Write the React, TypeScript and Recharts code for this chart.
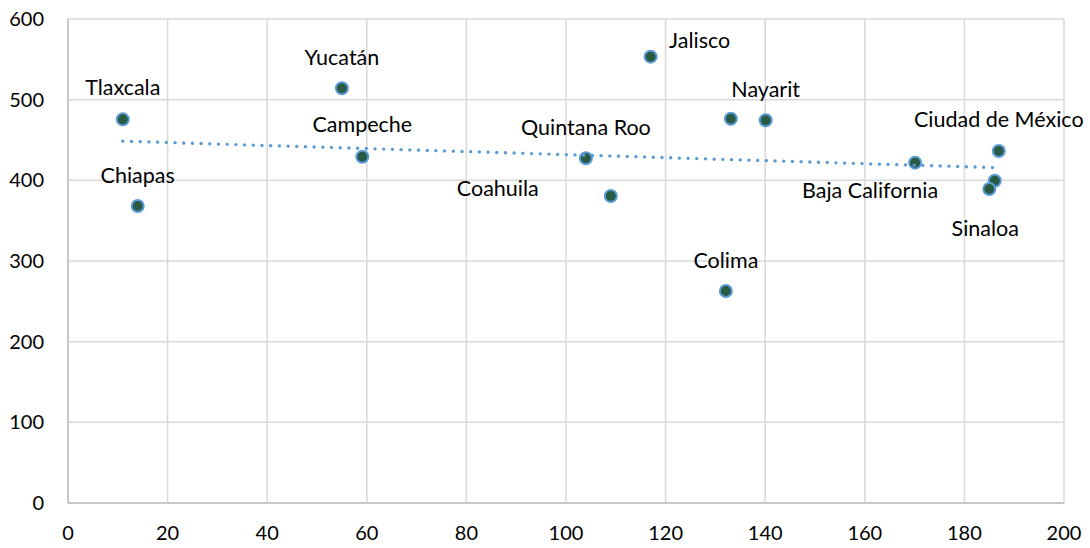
import React from 'react';
import { ScatterChart, Scatter, XAxis, YAxis, CartesianGrid } from 'recharts';

// Data
const xValues = [11, 14, 55, 59.1, 104, 109, 117, 132.1, 133.1, 140.1, 170.1, 186.9, 186.1, 185];
const yValues = [475.6, 368.2, 514.1, 429.3, 427.3, 380.6, 553.3, 262.8, 476.4, 474.4, 421.9, 436.3, 399.5, 389.2];
const names = [
  'Tlaxcala', 'Chiapas', 'Yucatán', 'Campeche', 'Quintana Roo', 'Coahuila', 'Jalisco',
  'Colima', '', 'Nayarit', 'Baja California', 'Ciudad de México', '', 'Sinaloa',
];
const xTicks = [0, 20, 40, 60, 80, 100, 120, 140, 160, 180, 200];
const yTicks = [0, 100, 200, 300, 400, 500, 600];

// Label placement (style): offset of the label centre from its point, in px
const labelOffsets: [number, number][] = [
  [0, -32], [0, -31], [0, -31], [0, -32], [0, -31], [-113, -8], [49, -16],
  [0, -31], [0, 0], [0, -31], [-45, 28], [0, -32], [0, 0], [-4, 39],
];

const FONT = 'Lato, "Open Sans", sans-serif';

const points = xValues.map((x, i) => ({ x, y: yValues[i], name: names[i], idx: i }));

// Linear trendline (least squares) computed from the points
const n = xValues.length;
const mx = xValues.reduce((s, v) => s + v, 0) / n;
const my = yValues.reduce((s, v) => s + v, 0) / n;
let sxy = 0;
let sxx = 0;
for (let i = 0; i < n; i++) {
  sxy += (xValues[i] - mx) * (yValues[i] - my);
  sxx += (xValues[i] - mx) * (xValues[i] - mx);
}
const slope = sxy / sxx;
const intercept = my - slope * mx;
const minX = Math.min(...xValues);
const maxX = Math.max(...xValues);
const trend = [
  { x: minX, y: intercept + slope * minX },
  { x: maxX, y: intercept + slope * maxX },
];

const PointShape = (props: any) => {
  const { cx, cy, payload } = props;
  const off = labelOffsets[payload.idx] || [0, 0];
  return (
    <g>
      <circle cx={cx} cy={cy} r={6} fill="#285a44" stroke="#5b9bd5" strokeWidth={2} />
      {payload.name ? (
        <text
          x={cx + off[0]}
          y={cy + off[1]}
          dy="0.36em"
          textAnchor="middle"
          fontFamily={FONT}
          fontSize={21.5}
          fill="#000"
        >
          {payload.name}
        </text>
      ) : null}
    </g>
  );
};

export default function App() {
  return (
    <div style={{ position: 'absolute', left: 0, top: 0 }}>
      <ScatterChart width={1090} height={548} margin={{ top: 19, right: 26, bottom: 0, left: 0 }}>
        <CartesianGrid stroke="#d9d9d9" strokeWidth={1.5} />
        <XAxis
          type="number"
          dataKey="x"
          domain={[0, 200]}
          ticks={xTicks}
          height={45}
          axisLine={{ stroke: '#bfbfbf', strokeWidth: 1.5 }}
          tickLine={false}
          tickSize={6}
          tickMargin={17}
          tick={{ fontSize: 20, fill: '#000', fontFamily: FONT }}
        />
        <YAxis
          type="number"
          dataKey="y"
          domain={[0, 600]}
          ticks={yTicks}
          width={68}
          axisLine={{ stroke: '#bfbfbf', strokeWidth: 1.5 }}
          tickLine={false}
          tickSize={6}
          tickMargin={18}
          tick={{ fontSize: 20, fill: '#000', fontFamily: FONT }}
        />
        <Scatter data={points} shape={PointShape} isAnimationActive={false} />
        <Scatter
          data={trend}
          fill="#5b9bd5"
          line={{ stroke: '#5b9bd5', strokeWidth: 3.3, strokeDasharray: '0.1 8.6', strokeLinecap: 'round' }}
          shape={() => <g />}
          isAnimationActive={false}
        />
      </ScatterChart>
    </div>
  );
}
